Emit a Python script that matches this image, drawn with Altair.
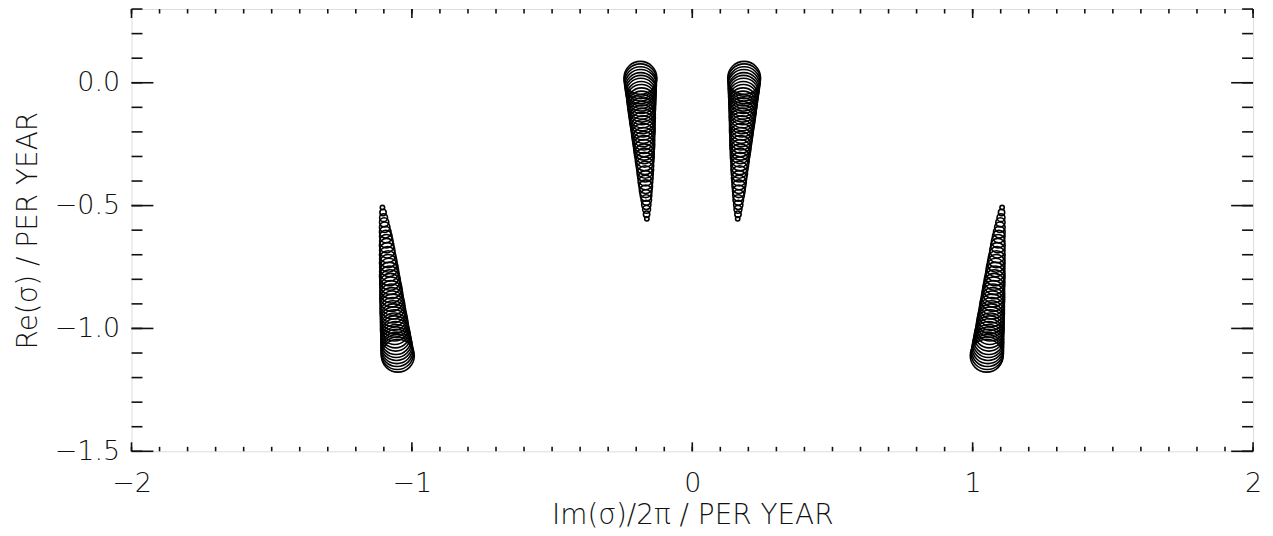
import altair as alt
import pandas as pd

# parameter index (symbol size grows with it)
param = list(range(1, 41))

# inner (low-frequency) pair
inner_re = [-0.554, -0.535, -0.515, -0.497, -0.477, -0.459, -0.442, -0.423, -0.406, -0.389,
            -0.371, -0.354, -0.338, -0.321, -0.305, -0.289, -0.273, -0.258, -0.243, -0.228,
            -0.213, -0.198, -0.184, -0.170, -0.156, -0.143, -0.130, -0.116, -0.104, -0.091,
            -0.079, -0.066, -0.055, -0.043, -0.032, -0.022, -0.010, 0.000, 0.011, 0.020]
inner_im_left = [-0.162, -0.163, -0.163, -0.164, -0.164, -0.165, -0.166, -0.166, -0.167, -0.167,
                 -0.168, -0.168, -0.169, -0.170, -0.170, -0.171, -0.172, -0.172, -0.173, -0.174,
                 -0.175, -0.175, -0.176, -0.177, -0.178, -0.178, -0.179, -0.180, -0.180, -0.181,
                 -0.181, -0.182, -0.182, -0.183, -0.183, -0.184, -0.184, -0.185, -0.185, -0.185]
inner_im_right = [0.162, 0.163, 0.163, 0.164, 0.164, 0.165, 0.166, 0.166, 0.167, 0.167,
                  0.168, 0.168, 0.169, 0.170, 0.170, 0.171, 0.172, 0.172, 0.173, 0.174,
                  0.175, 0.175, 0.176, 0.177, 0.178, 0.178, 0.179, 0.180, 0.180, 0.181,
                  0.181, 0.182, 0.182, 0.183, 0.183, 0.184, 0.184, 0.185, 0.185, 0.185]

# outer (high-frequency) pair
outer_re = [-0.508, -0.528, -0.549, -0.568, -0.588, -0.608, -0.626, -0.645, -0.663, -0.682,
            -0.700, -0.718, -0.735, -0.752, -0.769, -0.786, -0.803, -0.819, -0.835, -0.851,
            -0.866, -0.882, -0.897, -0.911, -0.926, -0.940, -0.954, -0.967, -0.980, -0.994,
            -1.007, -1.020, -1.032, -1.045, -1.056, -1.067, -1.079, -1.090, -1.101, -1.111]
outer_im_left = [-1.105, -1.103, -1.101, -1.099, -1.097, -1.095, -1.093, -1.091, -1.090, -1.088,
                 -1.087, -1.085, -1.084, -1.082, -1.081, -1.080, -1.078, -1.077, -1.075, -1.074,
                 -1.073, -1.072, -1.070, -1.069, -1.068, -1.067, -1.065, -1.064, -1.063, -1.062,
                 -1.061, -1.059, -1.058, -1.057, -1.056, -1.055, -1.054, -1.053, -1.052, -1.050]
outer_im_right = [1.105, 1.103, 1.101, 1.099, 1.097, 1.095, 1.093, 1.091, 1.090, 1.088,
                  1.087, 1.085, 1.084, 1.082, 1.081, 1.080, 1.078, 1.077, 1.075, 1.074,
                  1.073, 1.072, 1.070, 1.069, 1.068, 1.067, 1.065, 1.064, 1.063, 1.062,
                  1.061, 1.059, 1.058, 1.057, 1.056, 1.055, 1.054, 1.053, 1.052, 1.050]

# axis ticks
x_major = [-2, -1, 0, 1, 2]
y_major = [-1.5, -1.0, -0.5, 0.0]
x_minor = [round(-2 + 0.1 * i, 1) for i in range(41)]
y_minor = [round(-1.5 + 0.1 * i, 1) for i in range(19)]

rows = []
for branch, re_vals, im_vals in [("inner_left", inner_re, inner_im_left),
                                 ("inner_right", inner_re, inner_im_right),
                                 ("outer_left", outer_re, outer_im_left),
                                 ("outer_right", outer_re, outer_im_right)]:
    for p, r, i in zip(param, re_vals, im_vals):
        rows.append({"branch": branch, "p": p, "re": r, "im": i})
df = pd.DataFrame(rows)

W, H = 1126, 444
FONT = "DejaVu Sans"
INK = "#111111"
FS = 27
xs = alt.Scale(domain=[-2, 2], nice=False, zero=False)
ys = alt.Scale(domain=[-1.5, 0.3], nice=False, zero=False)

x_axis = alt.Axis(values=x_major, format="d", title="Im(σ)/2π / PER YEAR",
                  ticks=False, domain=False, grid=False,
                  labelPadding=19, titlePadding=6,
                  labelFontSize=FS, titleFontSize=28,
                  labelFont=FONT, titleFont=FONT,
                  labelColor=INK, titleColor=INK,
                  labelFontWeight=200, titleFontWeight=200, labelFlush=False)
y_axis = alt.Axis(values=y_major, format=".1f", title="Re(σ) / PER YEAR",
                  ticks=False, domain=False, grid=False,
                  labelPadding=12, titlePadding=12,
                  labelFontSize=FS, titleFontSize=28,
                  labelFont=FONT, titleFont=FONT,
                  labelColor=INK, titleColor=INK,
                  labelFontWeight=200, titleFontWeight=200, labelFlush=False)

circles = alt.Chart(df).mark_point(
    shape="circle", filled=False, color="black", strokeWidth=1.6, opacity=1
).encode(
    x=alt.X("im:Q", scale=xs, axis=x_axis),
    y=alt.Y("re:Q", scale=ys, axis=y_axis),
    size=alt.Size("p:Q", scale=alt.Scale(type="pow", exponent=1.1, domain=[0, 40], range=[0, 1089]),
                  legend=None),
    detail="branch:N",
)


def xticks(vals, length, side):
    base = alt.Chart(pd.DataFrame({"v": vals})).mark_rule(color=INK, strokeWidth=1.6)
    if side == "bottom":
        return base.encode(x=alt.X("v:Q", scale=xs, axis=x_axis),
                           y=alt.value(H), y2=alt.value(H - length))
    return base.encode(x=alt.X("v:Q", scale=xs, axis=x_axis),
                       y=alt.value(0), y2=alt.value(length))


def yticks(vals, length, side):
    base = alt.Chart(pd.DataFrame({"v": vals})).mark_rule(color=INK, strokeWidth=1.6)
    if side == "left":
        return base.encode(y=alt.Y("v:Q", scale=ys, axis=y_axis),
                           x=alt.value(0), x2=alt.value(length))
    return base.encode(y=alt.Y("v:Q", scale=ys, axis=y_axis),
                       x=alt.value(W), x2=alt.value(W - length))


layers = [
    circles,
    xticks(x_minor, 4.5, "bottom"), xticks(x_major, 9, "bottom"),
    xticks(x_minor, 4.5, "top"), xticks(x_major, 9, "top"),
    yticks(y_minor, 11, "left"), yticks(y_major, 22, "left"),
    yticks(y_minor, 11, "right"), yticks(y_major, 22, "right"),
]

chart = alt.layer(*layers).properties(
    width=W, height=H,
    autosize=alt.AutoSizeParams(type="none"),
    padding={"left": 124, "top": 0, "right": 12, "bottom": 86},
).configure_view(stroke=INK, strokeWidth=1.6).configure(background="white")

chart.save("out.html", embed_options={"renderer": "svg", "actions": False})
